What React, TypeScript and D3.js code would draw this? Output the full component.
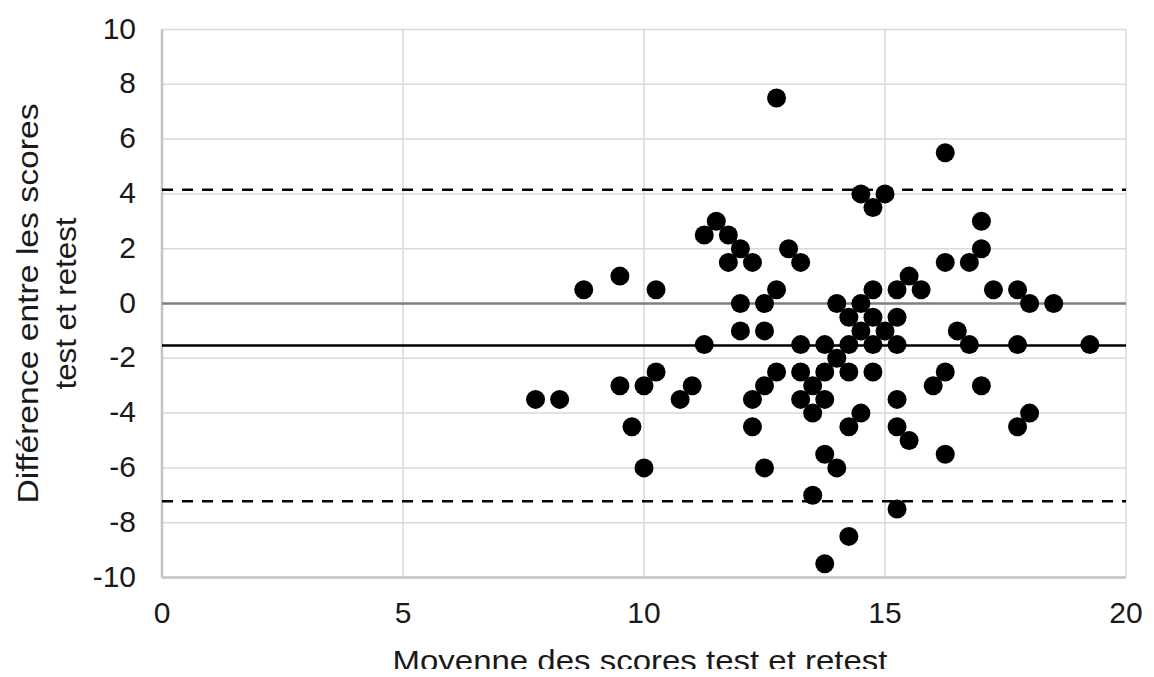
import React, { useEffect, useRef } from 'react';
import * as d3 from 'd3';

// Bland-Altman: moyenne (x) et différence (y) des scores test / retest
const meanScores = [
  7.75, 8.25, 8.75, 9.5, 9.5, 9.75, 10.0, 10.0, 10.25, 10.25,
  10.75, 11.0, 11.25, 11.25, 11.5, 11.75, 11.75, 12.0, 12.0, 12.0,
  12.25, 12.25, 12.25, 12.5, 12.5, 12.5, 12.5, 12.75, 12.75, 12.75,
  13.0, 13.25, 13.25, 13.25, 13.25, 13.5, 13.5, 13.5, 13.75, 13.75,
  13.75, 13.75, 13.75, 14.0, 14.0, 14.0, 14.25, 14.25, 14.25, 14.25,
  14.25, 14.5, 14.5, 14.5, 14.5, 14.75, 14.75, 14.75, 14.75, 14.75,
  15.0, 15.0, 15.25, 15.25, 15.25, 15.25, 15.25, 15.25, 15.5, 15.5,
  15.75, 16.0, 16.25, 16.25, 16.25, 16.25, 16.5, 16.75, 16.75, 17.0,
  17.0, 17.0, 17.25, 17.75, 17.75, 17.75, 18.0, 18.0, 18.5, 19.25,
];
const diffScores = [
  -3.5, -3.5, 0.5, 1.0, -3.0, -4.5, -3.0, -6.0, 0.5, -2.5,
  -3.5, -3.0, 2.5, -1.5, 3.0, 2.5, 1.5, 2.0, 0, -1.0,
  1.5, -3.5, -4.5, 0, -1.0, -3.0, -6.0, 7.5, 0.5, -2.5,
  2.0, 1.5, -1.5, -2.5, -3.5, -3.0, -4.0, -7.0, -1.5, -2.5,
  -3.5, -5.5, -9.5, 0, -2.0, -6.0, -0.5, -1.5, -2.5, -4.5,
  -8.5, 4.0, 0, -1.0, -4.0, 3.5, 0.5, -0.5, -1.5, -2.5,
  4.0, -1.0, 0.5, -0.5, -1.5, -3.5, -4.5, -7.5, 1.0, -5.0,
  0.5, -3.0, 5.5, 1.5, -2.5, -5.5, -1.0, 1.5, -1.5, 3.0,
  2.0, -3.0, 0.5, 0.5, -1.5, -4.5, 0, -4.0, 0, -1.5,
];

const meanDiff = -1.53;
const upperLimit = 4.15;
const lowerLimit = -7.22;

const xTicks = [0, 5, 10, 15, 20];
const yTicks = [-10, -8, -6, -4, -2, 0, 2, 4, 6, 8, 10];

const xTitle = 'Moyenne des scores test et retest';
const yTitleLines = ['Différence entre les scores', 'test et retest'];

const W = 1154;
const H = 677;
const FONT = '"Liberation Sans", Arial, sans-serif';

const App: React.FC = () => {
  const svgRef = useRef<SVGSVGElement>(null);

  useEffect(() => {
    if (!svgRef.current) return;
    const svg = d3.select(svgRef.current);
    svg.selectAll('*').remove();

    const x = d3.scaleLinear().domain([0, 20]).range([162, 1126]);
    const y = d3.scaleLinear().domain([-10, 10]).range([577.5, 29.5]);

    const g = svg.append('g');

    // grid
    g.selectAll('line.hgrid')
      .data(yTicks)
      .enter()
      .append('line')
      .attr('class', 'hgrid')
      .attr('x1', x(0)).attr('x2', x(20))
      .attr('y1', d => y(d)).attr('y2', d => y(d))
      .attr('stroke', '#d9d9d9')
      .attr('stroke-width', 1.5);

    g.selectAll('line.vgrid')
      .data(xTicks)
      .enter()
      .append('line')
      .attr('class', 'vgrid')
      .attr('x1', d => x(d)).attr('x2', d => x(d))
      .attr('y1', y(10)).attr('y2', y(-10))
      .attr('stroke', '#d9d9d9')
      .attr('stroke-width', 1.5);

    // axes lines (left + bottom)
    g.append('line')
      .attr('x1', x(0)).attr('x2', x(0))
      .attr('y1', y(10)).attr('y2', y(-10))
      .attr('stroke', '#c4c4c4').attr('stroke-width', 2.5);
    g.append('line')
      .attr('x1', x(0)).attr('x2', x(20))
      .attr('y1', y(-10)).attr('y2', y(-10))
      .attr('stroke', '#c4c4c4').attr('stroke-width', 2.5);

    // zero line
    g.append('line')
      .attr('x1', x(0)).attr('x2', x(20))
      .attr('y1', y(0)).attr('y2', y(0))
      .attr('stroke', '#808080').attr('stroke-width', 2.5);

    // mean + limits of agreement
    g.append('line')
      .attr('x1', x(0)).attr('x2', x(20))
      .attr('y1', y(meanDiff)).attr('y2', y(meanDiff))
      .attr('stroke', '#000').attr('stroke-width', 2.5);

    [upperLimit, lowerLimit].forEach(v => {
      g.append('line')
        .attr('x1', x(0)).attr('x2', x(20))
        .attr('y1', y(v)).attr('y2', y(v))
        .attr('stroke', '#000')
        .attr('stroke-width', 2.5)
        .attr('stroke-dasharray', '11 9');
    });

    // points
    const pts = meanScores.map((m, i) => ({ m, d: diffScores[i] }));
    g.selectAll('circle.pt')
      .data(pts)
      .enter()
      .append('circle')
      .attr('class', 'pt')
      .attr('cx', d => x(d.m))
      .attr('cy', d => y(d.d))
      .attr('r', 9.5)
      .attr('fill', '#000');

    // tick labels
    g.selectAll('text.xtick')
      .data(xTicks)
      .enter()
      .append('text')
      .attr('class', 'xtick')
      .attr('x', d => x(d))
      .attr('y', 623)
      .attr('text-anchor', 'middle')
      .attr('font-family', FONT)
      .attr('font-size', 30)
      .attr('fill', '#1a1a1a')
      .text(d => d);

    g.selectAll('text.ytick')
      .data(yTicks)
      .enter()
      .append('text')
      .attr('class', 'ytick')
      .attr('x', 136)
      .attr('y', d => y(d) + 9)
      .attr('text-anchor', 'end')
      .attr('font-family', FONT)
      .attr('font-size', 30)
      .attr('fill', '#1a1a1a')
      .text(d => d);

    // axis titles
    g.append('text')
      .attr('x', 640)
      .attr('y', 671)
      .attr('text-anchor', 'middle')
      .attr('font-family', FONT)
      .attr('font-size', 30)
      .attr('fill', '#1a1a1a')
      .attr('textLength', 495)
      .attr('lengthAdjust', 'spacingAndGlyphs')
      .text(xTitle);

    const yMid = y(0);
    const lineBase = [38, 76];
    const lineLen = [400, 172];
    yTitleLines.forEach((t, i) => {
      g.append('text')
        .attr('transform', `translate(${lineBase[i]}, ${yMid}) rotate(-90)`)
        .attr('text-anchor', 'middle')
        .attr('font-family', FONT)
        .attr('font-size', 30)
        .attr('fill', '#1a1a1a')
        .attr('textLength', lineLen[i])
        .attr('lengthAdjust', 'spacingAndGlyphs')
        .text(t);
    });
  }, []);

  return (
    <div style={{ width: W, height: H, margin: -8, background: '#fff' }}>
      <svg ref={svgRef} width={W} height={H} style={{ display: 'block' }} />
    </div>
  );
};

export default App;
